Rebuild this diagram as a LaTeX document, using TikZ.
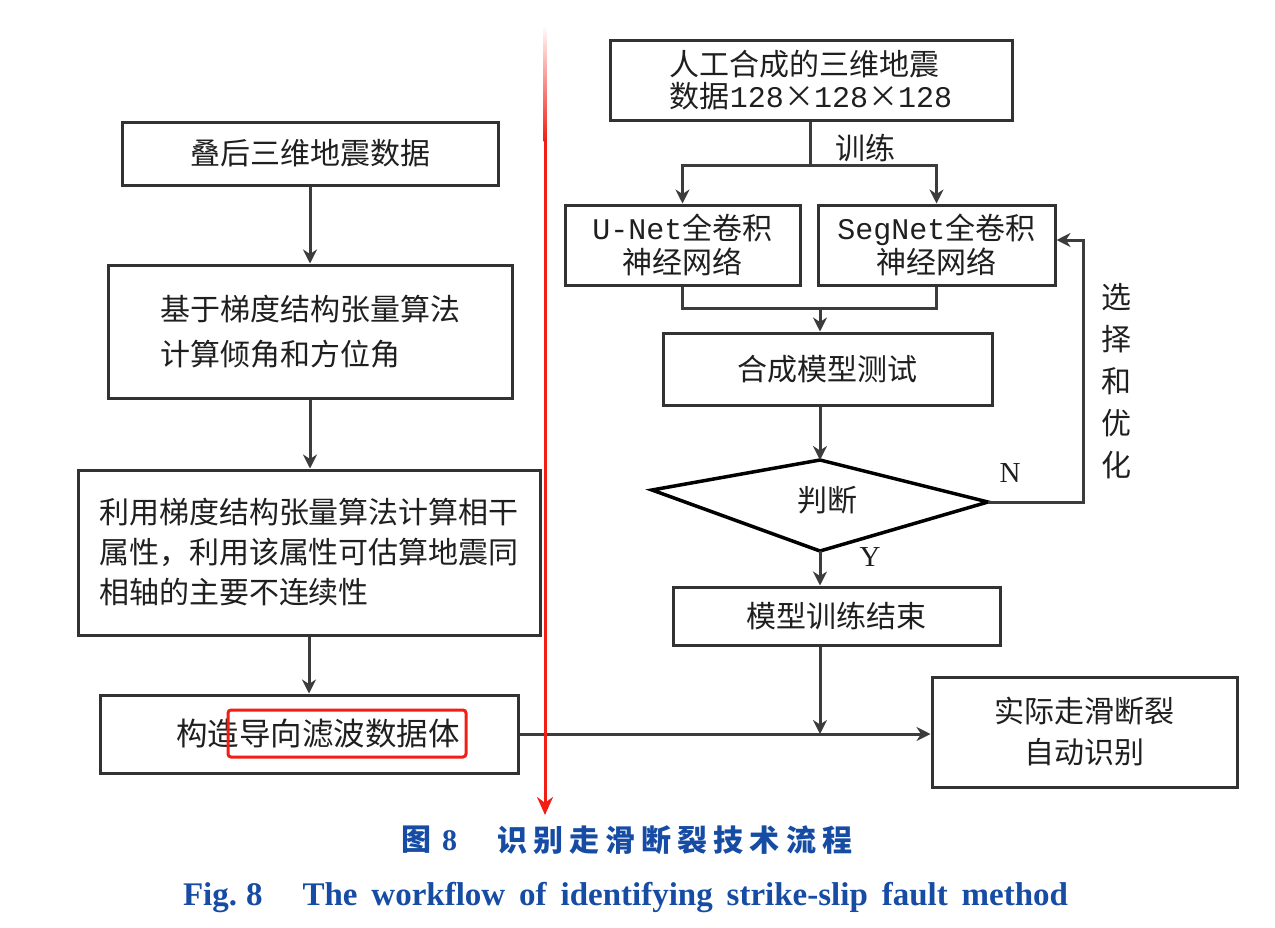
\documentclass[tikz,border=0pt]{standalone}
\usepackage{fontspec}
\setmainfont{Noto Sans CJK SC}
\newfontfamily\lmono{Liberation Mono}
\newfontfamily\lserif{Liberation Serif}
\usetikzlibrary{arrows.meta}
\definecolor{capblue}{RGB}{22,76,163}
\definecolor{boxline}{RGB}{50,50,50}
\definecolor{conn}{RGB}{60,60,60}
\definecolor{hired}{RGB}{240,30,20}
\begin{document}
\begin{tikzpicture}[x=1pt,y=-1pt,
 box/.style={draw=boxline,line width=3pt,fill=white,inner sep=0pt,text=black!88,
   font=\fontsize{30}{40}\selectfont,align=center},
 arr/.style={draw=conn,line width=3pt,-{Stealth[length=14pt,width=14pt]}},
 ln/.style={draw=conn,line width=3pt},
 lbl/.style={font=\fontsize{30}{42}\selectfont,text=black!88,inner sep=0pt,align=center},
 latlbl/.style={font=\lserif\fontsize{29}{29}\selectfont,text=black!88,inner sep=0pt}]
\useasboundingbox (0,0) rectangle (1275,927);

% left column
\node[box,minimum width=376pt,minimum height=63pt] (b1) at (310,153.5) {叠后三维地震数据};
\node[box,align=left,minimum width=404pt,minimum height=133pt,font=\fontsize{30}{45}\selectfont] (b2) at (310,331.5)
  {基于梯度结构张量算法\\计算倾角和方位角};
\node[box,align=left,minimum width=462pt,minimum height=165pt,font=\fontsize{30}{40}\selectfont] (b3) at (309,552.5)
  {利用梯度结构张量算法计算相干\\属性，利用该属性可估算地震同\\相轴的主要不连续性};
\node[box,minimum width=418pt,minimum height=78pt,font=\fontsize{31.5}{40}\selectfont] (b4) at (309,734)
  {\hspace{18pt}构造导向滤波数据体};

\draw[arr] (b1.south) -- (b1.south |- b2.north);
\draw[arr] (b2.south) -- (b2.south |- b3.north);
\draw[arr] (b3.south) -- (b3.south |- b4.north);

% right column
\node[box,align=left,minimum width=402pt,minimum height=80pt,font=\fontsize{30}{32}\selectfont] (top) at (811,80)
  {人工合成的三维地震\\数据{\lmono 128}×{\lmono 128}×{\lmono 128}};
\node[box,minimum width=235pt,minimum height=80pt,font=\fontsize{30}{34}\selectfont] (unet) at (682.5,245)
  {{\lmono U-Net}全卷积\\神经网络};
\node[box,minimum width=237pt,minimum height=80pt,font=\fontsize{30}{34}\selectfont] (seg) at (936.5,245)
  {{\lmono SegNet}全卷积\\神经网络};
\node[box,minimum width=329pt,minimum height=72pt] (test) at (827.5,369) {合成模型测试};
\node[box,minimum width=327pt,minimum height=58pt] (endb) at (836.5,616) {模型训练结束};
\node[box,minimum width=305pt,minimum height=110pt,font=\fontsize{30}{41}\selectfont] (res) at (1084.5,732)
  {实际走滑断裂\\自动识别};

% decision quadrilateral
\coordinate (L) at (652,490);
\coordinate (T) at (820,460);
\coordinate (R) at (988,502);
\coordinate (B) at (820,551);
\draw[line width=3.5pt,black,fill=white] (L) -- (T) -- (R) -- (B) -- cycle;
\node[lbl] (judge) at (827,500) {判断};

% labels
\node[lbl] (train) at (865,148) {训练};
\node[latlbl] (nlab) at (1010,473) {N};
\node[latlbl] (ylab) at (870,557) {Y};
\node[lbl] (opt) at (1116,381) {选\\择\\和\\优\\化};

% connectors right
\coordinate (split) at (810,165);
\coordinate (merge) at (820,308);
\coordinate (fb) at (1083,502);
\draw[ln] (top.south -| split) -- (split);
\draw[arr] (split) -| (unet.north);
\draw[arr] (split) -| (seg.north);
\draw[ln] (unet.south) |- (merge);
\draw[ln] (seg.south) |- (merge);
\draw[arr] (merge) -- (merge |- test.north);
\draw[arr] (T |- test.south) -- (T);
\draw[arr] (R) -- (fb) |- ([yshift=5pt]seg.east);
\draw[arr] (B) -- (B |- endb.north);
\draw[arr] (B |- endb.south) -- (B |- b4.east);
\draw[arr] (b4.east) -- (b4.east -| res.west);

% red highlight and red arrow
\draw[hired,line width=3pt,rounded corners=3pt] (228,710) rectangle (466,757);
\coordinate (ra) at (545,140);
\coordinate (rb) at (545,815);
\shade[top color=white,bottom color=hired] (543.5,25) rectangle (546.5,141);
\draw[hired,line width=3pt,-{Stealth[length=18pt,width=16pt]}] (ra) -- (rb);

% captions
\node[inner sep=0pt,text=capblue,font=\bfseries\fontsize{30}{30}\selectfont] (cap1) at (429,840) {图\hspace{11pt}{\lserif 8}};
\node[inner sep=0pt,anchor=west,text=capblue,font=\bfseries\fontsize{30}{30}\selectfont] (cap2) at (497,840)
  {\makebox[355pt]{识\hfill 别\hfill 走\hfill 滑\hfill 断\hfill 裂\hfill 技\hfill 术\hfill 流\hfill 程}};
\node[inner sep=0pt,text=capblue,font=\lserif\bfseries\fontsize{33}{33}\selectfont] (cap3) at (625.5,898)
  {\makebox[885pt][s]{Fig.\hspace{9pt}8\hspace{40pt}The workflow of identifying strike-slip fault method}};
\end{tikzpicture}
\end{document}
